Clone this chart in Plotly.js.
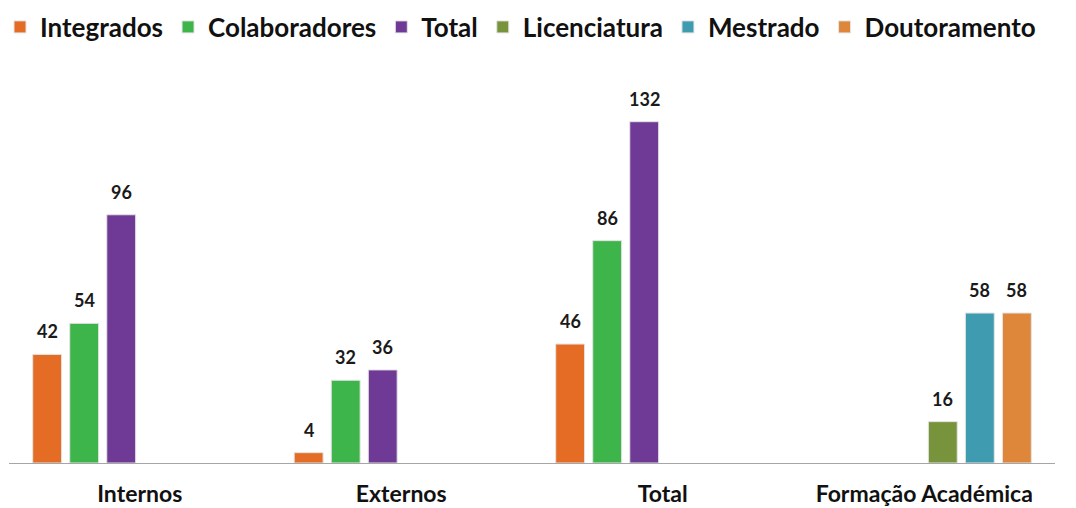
<!DOCTYPE html>
<html>
<head>
<meta charset="utf-8">
<script src="https://cdn.plot.ly/plotly-3.0.1.min.js"></script>
<style>html,body{margin:0;padding:0;background:#fff;}#chart{width:1076px;height:508px;}</style>
</head>
<body>
<div id="chart"></div>
<script>
const categories = ["Internos", "Externos", "Total", "Formação Académica"];
const seriesNames = ["Integrados", "Colaboradores", "Total", "Licenciatura", "Mestrado", "Doutoramento"];
const integrados    = [42, 4, 46, null];
const colaboradores = [54, 32, 86, null];
const total         = [96, 36, 132, null];
const licenciatura  = [null, null, null, 16];
const mestrado      = [null, null, null, 58];
const doutoramento  = [null, null, null, 58];
const seriesValues = [integrados, colaboradores, total, licenciatura, mestrado, doutoramento];
const seriesColors = ["#E46C24", "#3DB54A", "#6F3996", "#77933C", "#3E9BB0", "#DE863A"];

const FONT = "Lato, 'Open Sans', sans-serif";
const W = 1076, H = 508;
const margin = {l: 9, r: 21, t: 101, b: 45, autoexpand: false};
const bargap = 0.15, bargroupgap = 0.22;

const traces = seriesNames.map((name, i) => ({
  type: "bar",
  name: name,
  x: categories,
  y: seriesValues[i],
  marker: {color: seriesColors[i], line: {color: "#e4e4e4", width: 1}},
  hoverinfo: "x+y+name"
}));

// value labels placed above each bar, offset within its group slot
const plotW = W - margin.l - margin.r;
const slotPx = plotW / categories.length * (1 - bargap) / seriesNames.length;
const annotations = [];
seriesValues.forEach((vals, i) => {
  vals.forEach((v, c) => {
    if (v === null) return;
    annotations.push({
      x: categories[c], y: v, xref: "x", yref: "y",
      text: String(v), showarrow: false,
      xanchor: "center", yanchor: "middle",
      xshift: (i - (seriesNames.length - 1) / 2) * slotPx,
      yshift: 23,
      font: {family: FONT, size: 18, color: "#1a1a1a", weight: 700}
    });
  });
});

const layout = {
  width: W,
  height: H,
  margin: margin,
  paper_bgcolor: "#ffffff",
  plot_bgcolor: "#ffffff",
  barmode: "group",
  bargap: bargap,
  bargroupgap: bargroupgap,
  showlegend: true,
  legend: {
    orientation: "h",
    xref: "container", yref: "container",
    x: 0, xanchor: "left",
    y: 1 - 27 / H, yanchor: "middle",
    font: {family: FONT, size: 26, color: "#111111", weight: 700},
    itemwidth: 30,
    traceorder: "normal"
  },
  annotations: annotations,
  xaxis: {
    type: "category",
    showline: true,
    linecolor: "#a6a6a6",
    linewidth: 1,
    ticks: "",
    showgrid: false,
    ticklabelstandoff: 10,
    tickfont: {family: FONT, size: 23, color: "#111111", weight: 700}
  },
  yaxis: {
    range: [0, 140],
    visible: false,
    showgrid: false,
    zeroline: false
  }
};

Plotly.newPlot("chart", traces, layout, {displayModeBar: false, staticPlot: true});
</script>
</body>
</html>
